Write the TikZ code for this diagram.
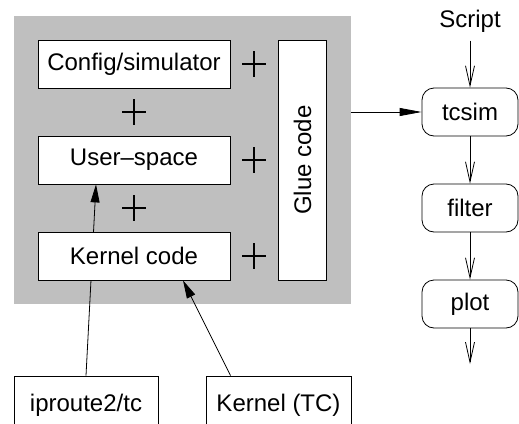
\documentclass[tikz,border=0pt]{standalone}
\usepackage{fontspec}
\setmainfont{Liberation Sans}
\usetikzlibrary{arrows.meta, positioning}
\pgfdeclarelayer{back}
\pgfdeclarelayer{mid}
\pgfsetlayers{back,mid,main}
\definecolor{simgray}{RGB}{191,191,191}

\begin{document}
\begin{tikzpicture}[x=0.5pt, y=-0.5pt, line width=0.5pt,
  font=\fontsize{12}{14}\selectfont,
  blk/.style={draw, fill=white, minimum width=96pt, minimum height=24pt, inner sep=0pt},
  tool/.style={blk, rounded corners=6pt, minimum width=48pt},
  src/.style={blk, minimum width=72pt, minimum height=29pt},
  solid head/.style={-{Triangle[length=9pt, width=4.5pt]}},
  vee/.style={-{Straight Barb[length=10pt, width=4.5pt]}}]
  \useasboundingbox (0,0) rectangle (519,423);

  % simulator block
  \begin{pgfonlayer}{back}
    \node[fill=simgray, minimum width=168.5pt, minimum height=144pt, inner sep=0pt] (sim) at (182.5,160) {};
  \end{pgfonlayer}
  \node[blk] (cfg) at (134,64) {Config/simulator};
  \node[blk] (user) at (134,160) {User--space};
  \node[blk] (kern) at (134,256) {Kernel code};
  \node[blk, minimum width=120pt, rotate=90] (glue) at (302.5,160) {Glue code};
  \foreach \x/\y in {254/64, 254/160, 254/256, 134/112, 134/208}
    \draw[line width=0.75pt] (\x-12,\y) -- (\x+12,\y) (\x,\y-13) -- (\x,\y+13);

  % sources
  \node[src] (ipr) at (86,405) {iproute2/tc};
  \node[src, minimum width=72.5pt] (ktc) at (278.5,405) {Kernel (TC)};
  \begin{pgfonlayer}{mid}
    \draw[solid head] (ipr.north) -- ([xshift=-19pt]user.south);
  \end{pgfonlayer}
  \draw[solid head] ([xshift=-24pt]ktc.north) -- ([xshift=24.5pt]kern.south);

  % tool chain
  \node[inner sep=0pt, inner ysep=4pt] (script) at (470,21) {Script};
  \node[tool] (tcsim) at (470,112) {tcsim};
  \node[tool] (filter) at (470,208) {filter};
  \node[tool] (plot) at (470,304) {plot};
  \coordinate (out) at (470,364);
  \draw[-{Triangle[length=11pt, width=4pt]}] (sim.east |- tcsim.west) -- (tcsim.west);
  \draw[vee] (script) -- (tcsim);
  \draw[vee] (tcsim) -- (filter);
  \draw[vee] (filter) -- (plot);
  \draw[vee] (plot) -- (out);
\end{tikzpicture}
\end{document}
